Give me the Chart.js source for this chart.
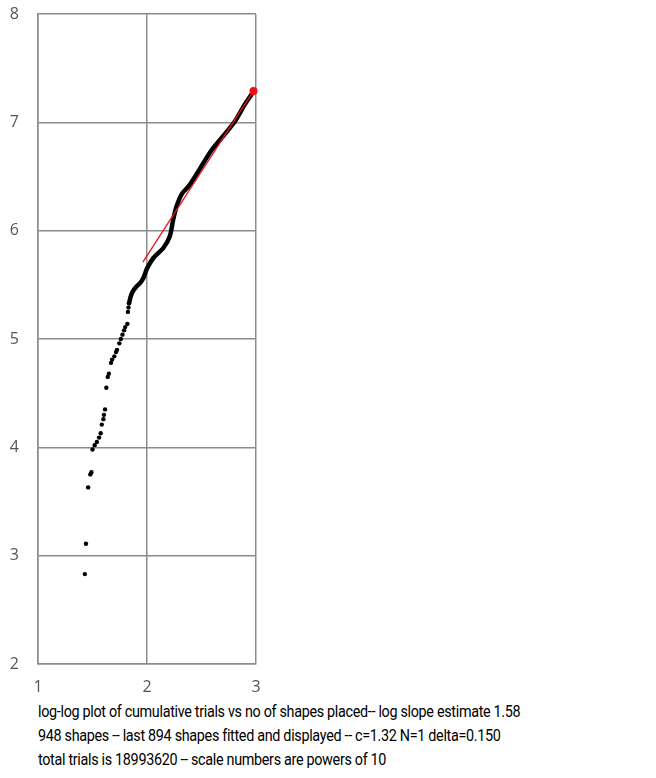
<!DOCTYPE html>
<html>
<head>
<meta charset="utf-8">
<script src="https://cdn.jsdelivr.net/npm/chart.js@4"></script>
<style>
  html, body { margin: 0; padding: 0; background: #fff; }
  body { width: 656px; height: 778px; position: relative; overflow: hidden; }
  #wrap { position: absolute; left: 0; top: 0; width: 275px; height: 700px; }
  #caption {
    position: absolute; left: 38px; top: 700px;
    font-family: Roboto, "Open Sans", sans-serif;
    font-size: 15.8px; line-height: 24px; color: #000; white-space: nowrap;
    letter-spacing: -0.35px;
    transform: scaleX(0.91); transform-origin: 0 0;
  }
</style>
</head>
<body>
<div id="wrap"><canvas id="c" width="275" height="700"></canvas></div>
<div id="caption">
  <div>log-log plot of cumulative trials vs no of shapes placed-- log slope estimate 1.58</div>
  <div>948 shapes -- last 894 shapes fitted and displayed -- c=1.32 N=1 delta=0.150</div>
  <div>total trials is 18993620 -- scale numbers are powers of 10</div>
</div>
<script>
// sparse early points (log10 shapes, log10 cumulative trials)
const dotX = [1.43, 1.44, 1.46, 1.48, 1.49, 1.50, 1.52, 1.54, 1.56, 1.575, 1.585, 1.60, 1.605, 1.615,
  1.627, 1.64, 1.65, 1.67, 1.68, 1.70, 1.716, 1.725, 1.746, 1.76, 1.775, 1.79, 1.80, 1.82, 1.825, 1.83, 1.835];
const dotY = [2.83, 3.11, 3.63, 3.75, 3.77, 3.98, 4.02, 4.05, 4.09, 4.13, 4.21, 4.26, 4.30, 4.35,
  4.55, 4.65, 4.68, 4.78, 4.81, 4.84, 4.88, 4.90, 4.96, 5.00, 5.04, 5.08, 5.11, 5.14, 5.25, 5.29, 5.33];

// dense part, where the dots merge into a thick curve
const curveX = [1.835, 1.85, 1.87, 1.90, 1.94, 1.97, 2.00, 2.06, 2.15, 2.21, 2.24, 2.27, 2.32, 2.39,
  2.46, 2.59, 2.746, 2.807, 2.90, 2.96, 2.977];
const curveY = [5.33, 5.39, 5.44, 5.48, 5.52, 5.57, 5.65, 5.75, 5.84, 5.95, 6.10, 6.22, 6.34, 6.42,
  6.53, 6.74, 6.93, 7.01, 7.17, 7.26, 7.29];

// fitted line and last point
const fitX = [1.962, 2.977];
const fitY = [5.71, 7.29];
const lastX = [2.977];
const lastY = [7.29];

const xTicks = [1, 2, 3];
const yTicks = [2, 3, 4, 5, 6, 7, 8];

const pts = (xs, ys) => xs.map((x, i) => ({ x, y: ys[i] }));
const gridCol = "#8c8c8c";

Chart.defaults.font.family = "Open Sans";
Chart.defaults.font.size = 16;

new Chart(document.getElementById("c"), {
  type: "scatter",
  data: {
    datasets: [
      { data: pts(lastX, lastY), backgroundColor: "#ee1111", borderWidth: 0, pointRadius: 4, clip: false, order: 0 },
      { data: pts(fitX, fitY), showLine: true, borderColor: "#e8141c", borderWidth: 1.3, pointRadius: 0, order: 1 },
      { data: pts(curveX, curveY), showLine: true, borderColor: "#000", borderWidth: 4.5, pointRadius: 0,
        borderCapStyle: "round", borderJoinStyle: "round", tension: 0.2, order: 2 },
      { data: pts(dotX, dotY), backgroundColor: "#000", borderWidth: 0, pointRadius: 2.2, order: 3 }
    ]
  },
  options: {
    responsive: false,
    animation: false,
    layout: { padding: { top: 0, right: 19, left: 0, bottom: 0 } },
    plugins: { legend: { display: false }, tooltip: { enabled: false } },
    scales: {
      x: {
        type: "linear", min: 1, max: 3,
        afterBuildTicks: s => { s.ticks = xTicks.map(v => ({ value: v })); },
        afterFit: s => { s.height = 36; },
        grid: { color: gridCol, lineWidth: 1.5, drawTicks: false },
        border: { color: gridCol, width: 1.5 },
        ticks: { padding: 14, color: "#555", font: { size: 16 } }
      },
      y: {
        type: "linear", min: 2, max: 8,
        afterBuildTicks: s => { s.ticks = yTicks.map(v => ({ value: v })); },
        afterFit: s => { s.width = 38; s.paddingTop = 14; s.paddingBottom = 10; },
        grid: { color: gridCol, lineWidth: 1.5, drawTicks: false },
        border: { color: gridCol, width: 1.5 },
        ticks: { padding: 19, color: "#555", font: { size: 16 } }
      }
    }
  }
});
</script>
</body>
</html>
